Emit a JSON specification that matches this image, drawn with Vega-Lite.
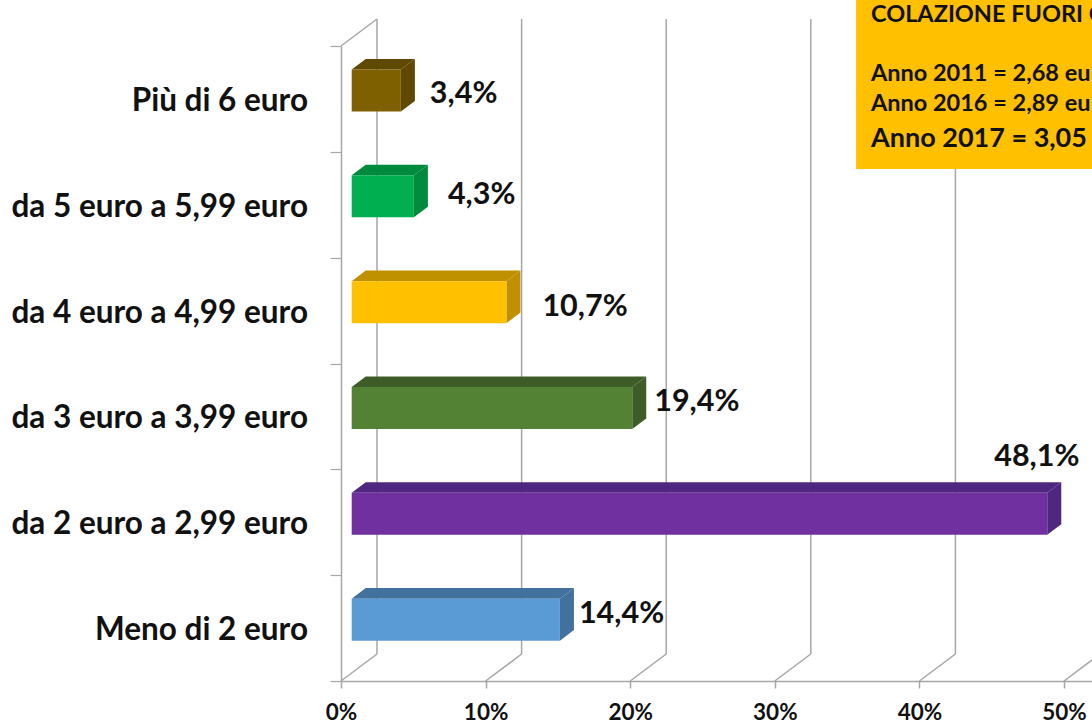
{"$schema":"https://vega.github.io/schema/vega-lite/v6.json","width":751,"height":635,"autosize":"none","padding":{"left":341,"top":46,"right":0,"bottom":44},"background":"white","config":{"view":{"stroke":null},"font":"Lato"},
"datasets":{"bars":[{"idx":5,"label":"Più di 6 euro","value":3.4},{"idx":4,"label":"da 5 euro a 5,99 euro","value":4.3},{"idx":3,"label":"da 4 euro a 4,99 euro","value":10.7},{"idx":2,"label":"da 3 euro a 3,99 euro","value":19.4},{"idx":1,"label":"da 2 euro a 2,99 euro","value":48.1},{"idx":0,"label":"Meno di 2 euro","value":14.4}],
"ticks":[{"t":0},{"t":10},{"t":20},{"t":30},{"t":40},{"t":50}],"one":[{"note":"annotation"}]},
"layer":[
{"data":{"name":"ticks"},"mark":{"type":"rule","stroke":"#a6a6a6","strokeWidth":1.5},"transform":[{"calculate":"datum.t+2.49","as":"bx"},{"calculate":"0.255","as":"y0"},{"calculate":"6.255","as":"y1"}],
"encoding":{"x":{"field":"bx","type":"quantitative","scale":{"domain":[0,51.936],"nice":false,"zero":false},"axis":{"values":[0,10,20,30,40,50],"labelExpr":"datum.value+'%'","labelFlush":false,"grid":false,"title":null,"domainColor":"#a6a6a6","domainWidth":1.5,"tickColor":"#a6a6a6","tickWidth":1.5,"tickSize":7,"labelFont":"Lato","labelFontWeight":"bold","labelFontSize":22.5,"labelColor":"#111111","labelPadding":13}},"y":{"field":"y0","type":"quantitative","scale":{"domain":[0,6],"nice":false,"zero":false},"axis":{"values":[0,1,2,3,4,5,6],"labels":false,"grid":false,"title":null,"domainColor":"#a6a6a6","domainWidth":1.5,"tickColor":"#a6a6a6","tickWidth":1.2,"tickSize":11}},"y2":{"field":"y1"}}},
{"data":{"name":"ticks"},"mark":{"type":"rule","stroke":"#a6a6a6","strokeWidth":1.5},"transform":[{"calculate":"datum.t+2.49","as":"bx"},{"calculate":"0","as":"y0"},{"calculate":"0.255","as":"y1"}],
"encoding":{"x":{"field":"t","type":"quantitative"},"x2":{"field":"bx"},"y":{"field":"y0","type":"quantitative"},"y2":{"field":"y1"}}},
{"data":{"name":"one"},"mark":{"type":"rule","stroke":"#a6a6a6","strokeWidth":1.5},"encoding":{"x":{"datum":0,"type":"quantitative"},"x2":{"datum":2.49},"y":{"datum":6,"type":"quantitative"},"y2":{"datum":6.255}}},
{"data":{"name":"bars"},"mark":{"type":"area","orient":"horizontal"},"transform":[{"calculate":"[0,1]","as":"k"},{"flatten":["k"]},{"calculate":"0.74+datum.k*0.97","as":"xa"},{"calculate":"datum.value+0.74+datum.k*0.97","as":"xb"},{"calculate":"datum.idx+0.778+datum.k*0.1","as":"ya"}],
"encoding":{"y":{"field":"ya","type":"quantitative"},"x":{"field":"xa","type":"quantitative"},"x2":{"field":"xb"},"fill":{"field":"label","type":"nominal","legend":null,"scale":{"domain":["Più di 6 euro","da 5 euro a 5,99 euro","da 4 euro a 4,99 euro","da 3 euro a 3,99 euro","da 2 euro a 2,99 euro","Meno di 2 euro"],"range":["#5f4800","#008a3e","#bf9000","#3e5c28","#4f2780","#41719c"]}}}},
{"data":{"name":"bars"},"mark":{"type":"area","orient":"vertical"},"transform":[{"calculate":"[0,1]","as":"k"},{"flatten":["k"]},{"calculate":"datum.value+0.74+datum.k*0.97","as":"xb"},{"calculate":"datum.idx+0.381+datum.k*0.1","as":"ya"},{"calculate":"datum.idx+0.778+datum.k*0.1","as":"yb"}],
"encoding":{"x":{"field":"xb","type":"quantitative"},"y":{"field":"ya","type":"quantitative"},"y2":{"field":"yb"},"fill":{"field":"label","type":"nominal","legend":null}}},
{"data":{"name":"bars"},"mark":{"type":"rect"},"transform":[{"calculate":"0.74","as":"xa"},{"calculate":"datum.value+0.74","as":"xb"},{"calculate":"datum.idx+0.381","as":"ya"},{"calculate":"datum.idx+0.778","as":"yb"}],
"encoding":{"x":{"field":"xa","type":"quantitative"},"x2":{"field":"xb"},"y":{"field":"ya","type":"quantitative"},"y2":{"field":"yb"},"color":{"field":"label","type":"nominal","legend":null,"scale":{"domain":["Più di 6 euro","da 5 euro a 5,99 euro","da 4 euro a 4,99 euro","da 3 euro a 3,99 euro","da 2 euro a 2,99 euro","Meno di 2 euro"],"range":["#7f6000","#00b050","#ffc000","#548235","#7030a0","#5b9bd5"]}}}},
{"data":{"name":"bars"},"mark":{"type":"text","align":"right","baseline":"middle","dx":-33,"dy":3,"font":"Lato","fontWeight":"bold","fontSize":31.5,"fill":"#111111"},"transform":[{"calculate":"datum.idx+0.5","as":"ym"}],"encoding":{"x":{"datum":0,"type":"quantitative"},"y":{"field":"ym","type":"quantitative"},"text":{"field":"label"}}},
{"data":{"name":"bars"},"transform":[{"filter":"datum.idx==5"},{"calculate":"datum.value+0.74","as":"xa"},{"calculate":"datum.idx+0.58","as":"ym"},{"calculate":"replace(format(datum.value,'.1f'),'.',',')+'%'","as":"txt"}],"mark":{"type":"text","align":"left","baseline":"middle","dx":29,"dy":3.5,"font":"Lato","fontWeight":"bold","fontSize":30.5,"fill":"#111111"},"encoding":{"x":{"field":"xa","type":"quantitative"},"y":{"field":"ym","type":"quantitative"},"text":{"field":"txt"}}},
{"data":{"name":"bars"},"transform":[{"filter":"datum.idx==4"},{"calculate":"datum.value+0.74","as":"xa"},{"calculate":"datum.idx+0.58","as":"ym"},{"calculate":"replace(format(datum.value,'.1f'),'.',',')+'%'","as":"txt"}],"mark":{"type":"text","align":"left","baseline":"middle","dx":34,"dy":-1,"font":"Lato","fontWeight":"bold","fontSize":30.5,"fill":"#111111"},"encoding":{"x":{"field":"xa","type":"quantitative"},"y":{"field":"ym","type":"quantitative"},"text":{"field":"txt"}}},
{"data":{"name":"bars"},"transform":[{"filter":"datum.idx==3"},{"calculate":"datum.value+0.74","as":"xa"},{"calculate":"datum.idx+0.58","as":"ym"},{"calculate":"replace(format(datum.value,'.1f'),'.',',')+'%'","as":"txt"}],"mark":{"type":"text","align":"left","baseline":"middle","dx":36,"dy":5,"font":"Lato","fontWeight":"bold","fontSize":30.5,"fill":"#111111"},"encoding":{"x":{"field":"xa","type":"quantitative"},"y":{"field":"ym","type":"quantitative"},"text":{"field":"txt"}}},
{"data":{"name":"bars"},"transform":[{"filter":"datum.idx==2"},{"calculate":"datum.value+0.74","as":"xa"},{"calculate":"datum.idx+0.58","as":"ym"},{"calculate":"replace(format(datum.value,'.1f'),'.',',')+'%'","as":"txt"}],"mark":{"type":"text","align":"left","baseline":"middle","dx":22,"dy":-6,"font":"Lato","fontWeight":"bold","fontSize":30.5,"fill":"#111111"},"encoding":{"x":{"field":"xa","type":"quantitative"},"y":{"field":"ym","type":"quantitative"},"text":{"field":"txt"}}},
{"data":{"name":"bars"},"transform":[{"filter":"datum.idx==1"},{"calculate":"datum.value+0.74","as":"xa"},{"calculate":"datum.idx+0.58","as":"ym"},{"calculate":"replace(format(datum.value,'.1f'),'.',',')+'%'","as":"txt"}],"mark":{"type":"text","align":"left","baseline":"middle","dx":-53,"dy":-57,"font":"Lato","fontWeight":"bold","fontSize":30.5,"fill":"#111111"},"encoding":{"x":{"field":"xa","type":"quantitative"},"y":{"field":"ym","type":"quantitative"},"text":{"field":"txt"}}},
{"data":{"name":"bars"},"transform":[{"filter":"datum.idx==0"},{"calculate":"datum.value+0.74","as":"xa"},{"calculate":"datum.idx+0.58","as":"ym"},{"calculate":"replace(format(datum.value,'.1f'),'.',',')+'%'","as":"txt"}],"mark":{"type":"text","align":"left","baseline":"middle","dx":19,"dy":-6,"font":"Lato","fontWeight":"bold","fontSize":30.5,"fill":"#111111"},"encoding":{"x":{"field":"xa","type":"quantitative"},"y":{"field":"ym","type":"quantitative"},"text":{"field":"txt"}}},
{"data":{"name":"one"},"mark":{"type":"rect","fill":"#ffc000","clip":false},"encoding":{"x":{"datum":35.62,"type":"quantitative"},"x2":{"datum":52},"y":{"datum":4.838,"type":"quantitative"},"y2":{"datum":6.44}}},
{"data":{"name":"one"},"mark":{"type":"text","text":"COLAZIONE FUORI C","align":"left","baseline":"middle","font":"Lato","fontWeight":"bold","fontSize":23.5,"fill":"#111111"},"encoding":{"x":{"datum":36.65,"type":"quantitative"},"y":{"datum":6.293,"type":"quantitative"}}},
{"data":{"name":"one"},"mark":{"type":"text","text":"Anno 2011 = 2,68 eu","align":"left","baseline":"middle","font":"Lato","fontWeight":"bold","fontSize":23.5,"fill":"#111111"},"encoding":{"x":{"datum":36.65,"type":"quantitative"},"y":{"datum":5.74,"type":"quantitative"}}},
{"data":{"name":"one"},"mark":{"type":"text","text":"Anno 2016 = 2,89 eu","align":"left","baseline":"middle","font":"Lato","fontWeight":"bold","fontSize":23.5,"fill":"#111111"},"encoding":{"x":{"datum":36.65,"type":"quantitative"},"y":{"datum":5.456,"type":"quantitative"}}},
{"data":{"name":"one"},"mark":{"type":"text","text":"Anno 2017 = 3,05","align":"left","baseline":"middle","font":"Lato","fontWeight":"bold","fontSize":27,"fill":"#111111"},"encoding":{"x":{"datum":36.65,"type":"quantitative"},"y":{"datum":5.125,"type":"quantitative"}}}
]}
